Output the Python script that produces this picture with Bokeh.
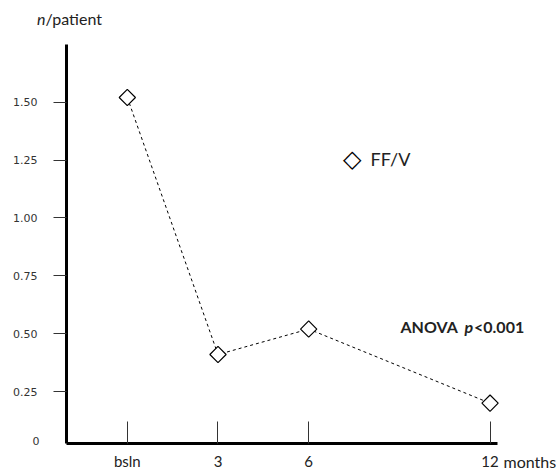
import numpy as np
from bokeh.plotting import figure
from bokeh.models import FixedTicker, Label, Range1d, ColumnDataSource, LinearAxis
from bokeh.embed import file_html
from bokeh.resources import INLINE

# ---- data ----
months = [0, 3, 6, 12]
tick_labels = ["bsln", "3", "6", "12"]
ff_v = [1.52, 0.41, 0.52, 0.20]
y_ticks = [0.25, 0.50, 0.75, 1.00, 1.25, 1.50]
series_name = "FF/V"

FONT = "Lato"
W, H = 556, 471

p = figure(width=W, height=H, output_backend="svg", toolbar_location=None,
           x_range=Range1d(-4.195, 14.198), y_range=Range1d(-0.095, 1.9387),
           x_axis_type=None, y_axis_type=None,
           min_border_left=0, min_border_right=0, min_border_top=0, min_border_bottom=0)
p.outline_line_color = None
p.background_fill_color = "white"
p.border_fill_color = "white"

X0, Y0 = -2.011, 0.0259   # where the axes cross
XMAX, YMAX = 12.25, 1.749

src = ColumnDataSource(dict(x=months, y=ff_v))
p.line("x", "y", source=src, line_color="black", line_width=1, line_dash="3 3")
p.scatter("x", "y", source=src, marker="square", angle=np.pi / 4, size=11.5,
          fill_color="white", line_color="black", line_width=1.2)

# y axis
ya = LinearAxis(fixed_location=X0, bounds=(Y0, YMAX))
ya.ticker = FixedTicker(ticks=y_ticks)
ya.major_label_overrides = {v: f"{v:.2f}" for v in y_ticks}
ya.axis_line_width = 3
ya.axis_line_color = "black"
ya.major_tick_out = 13
ya.major_tick_in = 0
ya.major_tick_line_color = "#333333"
ya.major_tick_line_width = 1
ya.minor_tick_line_color = None
ya.major_label_standoff = 16
ya.major_label_text_font = "DejaVu Sans"
ya.major_label_text_font_size = "11px"
ya.major_label_text_color = "#333333"
p.add_layout(ya, "left")

# x axis
xa = LinearAxis(fixed_location=Y0, bounds=(X0, XMAX))
xa.ticker = FixedTicker(ticks=months)
xa.major_label_overrides = {m: t for m, t in zip(months, tick_labels)}
xa.axis_line_width = 3
xa.axis_line_color = "black"
xa.major_tick_in = 22
xa.major_tick_out = 0
xa.major_tick_line_color = "#333333"
xa.major_tick_line_width = 1
xa.minor_tick_line_color = None
xa.major_label_standoff = 9
xa.major_label_text_font = FONT
xa.major_label_text_font_size = "15px"
xa.major_label_text_color = "#222222"
p.add_layout(xa, "below")

def lab(text, cx, cy, size="15px", style="normal", align="left", font=FONT, color="#222222"):
    # cx, cy: canvas pixel position (from top-left)
    p.add_layout(Label(x=cx, y=H - cy, x_units="screen", y_units="screen", text=text,
                       text_font=font, text_font_size=size, text_font_style=style,
                       text_align=align, text_baseline="middle", text_color=color))

lab("n", 36.5, 18, size="16px", style="italic")
lab("/patient", 45, 18, size="16px")
lab("0", 39, 440, size="11px", align="right", font="DejaVu Sans", color="#333333")
lab("months", 503, 461, size="16px")
lab("\u25c7", 351.7, 158, size="24px", align="center", font="DejaVu Sans", color="black")
lab(series_name, 370, 158, size="18px")
lab("ANOVA", 400, 326, size="16px", style="bold")
lab("p", 464, 326, size="16px", style="bold italic")
lab("<0.001", 473.5, 326, size="16px", style="bold")

open("out.html", "w").write(file_html(p, INLINE))
